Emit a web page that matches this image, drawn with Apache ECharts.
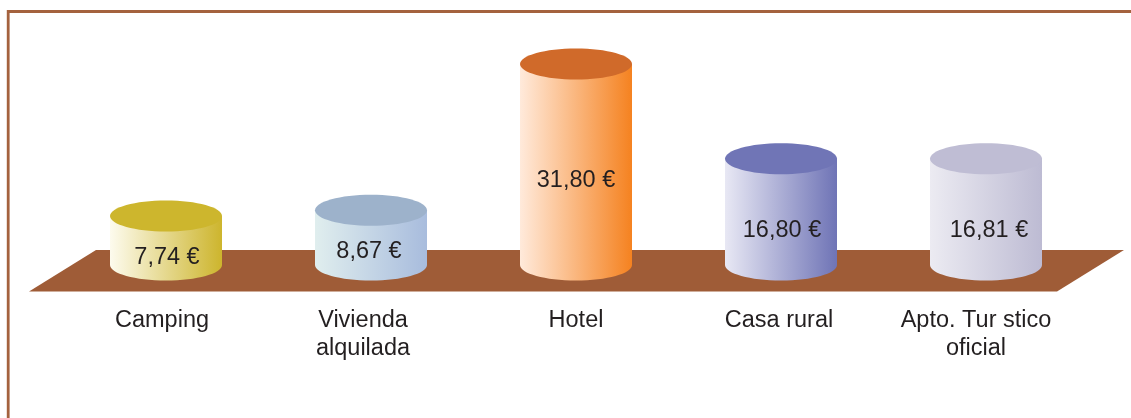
<!DOCTYPE html>
<html>
<head>
<meta charset="utf-8">
<style>
	html, body { margin: 0; padding: 0; background: #ffffff; }
	#main { width: 1131px; height: 418px; }
</style>
<script src="https://cdn.jsdelivr.net/npm/echarts@6/dist/echarts.min.js"></script>
</head>
<body>
<div id="main"></div>
<script>
var categories = ["Camping", "Vivienda\nalquilada", "Hotel", "Casa rural", "Apto. Tur stico\noficial"];
var prices = [7.74, 8.67, 31.80, 16.80, 16.81];

var sideLeftColors = ["#fdfbee", "#e0eeee", "#ffeadb", "#e8e8f4", "#ecebf2"];
var sideRightColors = ["#cdb52d", "#a8bcdd", "#f58220", "#6f74b6", "#bdbbd3"];
var topColors = ["#cdb62d", "#9db2cb", "#d06a2a", "#7075b6", "#bfbdd4"];

// small nudges of the texts, they are not centred on the cylinders in the original
var valueLabelLift = [7, 13, 84, 34, 34];
var valueLabelShift = [1, -2, 0, 1, 3];
var categoryLabelShift = [-4, -8, 0, -2, -10];

var RX = 56;
var RY = 15.5;
var TEXT_COLOR = "#231f20";
var BROWN = "#9f5c37";

function formatPrice(v) {
	return v.toFixed(2).replace(".", ",") + " €";
}

function renderCylinder(params, api) {
	var i = api.value(0);
	var top = api.coord([i, api.value(1)]);
	var base = api.coord([i, 0]);
	var x = top[0];
	var side = new echarts.graphic.LinearGradient(0, 0, 1, 0, [
		{ offset: 0, color: sideLeftColors[i] },
		{ offset: 1, color: sideRightColors[i] }
	]);
	return {
		type: "group",
		children: [
			{ type: "ellipse", shape: { cx: x, cy: base[1], rx: RX, ry: RY }, style: { fill: side } },
			{ type: "rect", shape: { x: x - RX, y: top[1], width: RX * 2, height: base[1] - top[1] }, style: { fill: side } },
			{ type: "ellipse", shape: { cx: x, cy: top[1], rx: RX, ry: RY }, style: { fill: topColors[i] } },
			{
				type: "text",
				style: {
					text: formatPrice(api.value(1)),
					x: x + valueLabelShift[i],
					y: base[1] - valueLabelLift[i],
					align: "center",
					verticalAlign: "middle",
					fill: TEXT_COLOR,
					font: "23.5px 'Liberation Sans', Arial, sans-serif"
				}
			}
		]
	};
}

window.onload = () => {
	var myChart = echarts.init(document.getElementById("main"), null, { renderer: "canvas" });

	var option = {
		animation: false,
		backgroundColor: "#ffffff",
		graphic: [
			{
				type: "polyline",
				z: 0,
				shape: { points: [[8.2, 418], [8.2, 11.5], [1131, 11.5]] },
				style: { stroke: "#a4623e", lineWidth: 2.8, fill: null }
			},
			{
				type: "polygon",
				z: 0,
				shape: { points: [[96, 250], [1124, 250], [1057, 291.5], [29, 291.5]] },
				style: { fill: BROWN }
			}
		],
		grid: { left: 63.5, width: 1025, top: 12.2, height: 252.8 },
		xAxis: {
			type: "category",
			data: categories.map(function (name, i) {
				var s = categoryLabelShift[i] * 2;
				return {
					value: name,
					textStyle: { padding: s < 0 ? [0, -s, 0, 0] : [0, 0, 0, s] }
				};
			}),
			axisLine: { show: false },
			axisTick: { show: false },
			axisLabel: {
				interval: 0,
				margin: 42,
				color: TEXT_COLOR,
				fontFamily: "Liberation Sans",
				fontSize: 23.5,
				lineHeight: 28
			}
		},
		yAxis: { type: "value", min: 0, max: 40, show: false },
		series: [
			{
				type: "custom",
				renderItem: renderCylinder,
				encode: { x: 0, y: 1 },
				data: prices.map(function (v, i) { return [i, v]; })
			}
		]
	};

	myChart.setOption(option);
};
</script>
</body>
</html>
